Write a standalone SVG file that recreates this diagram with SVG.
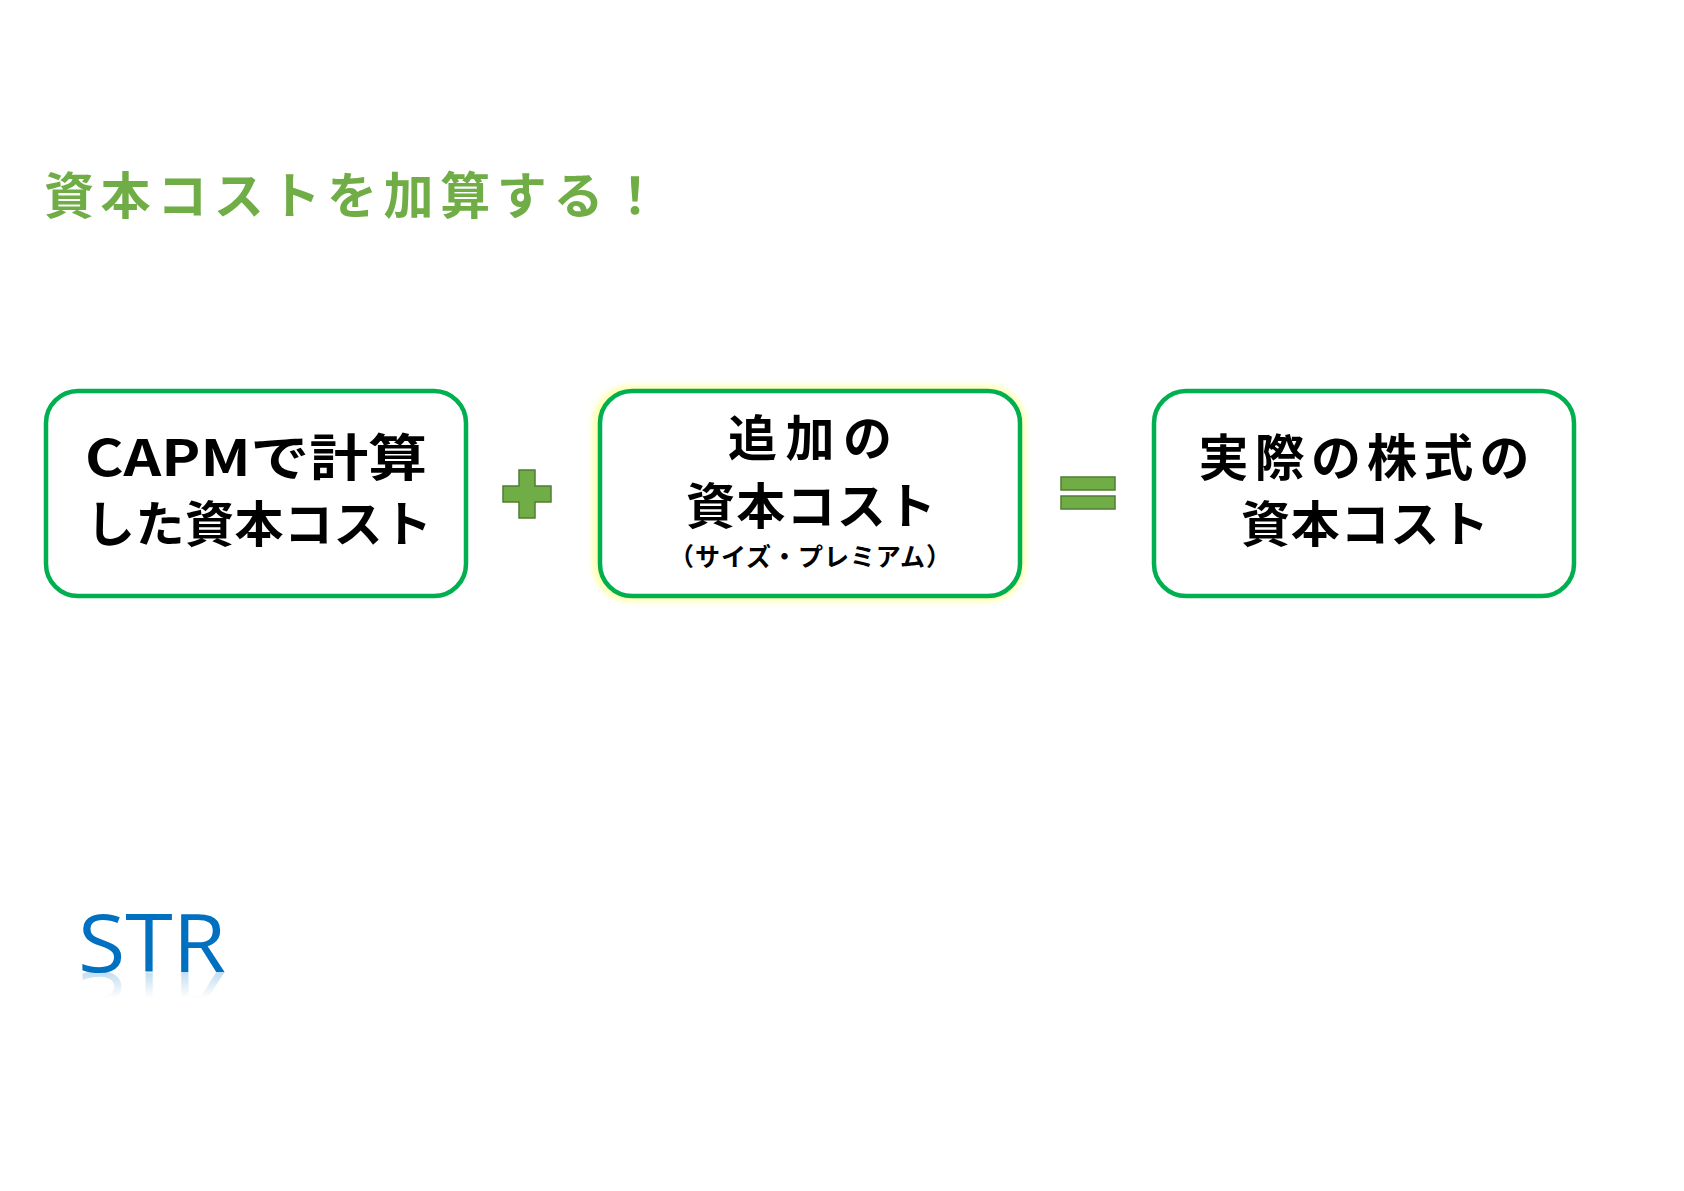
<svg xmlns="http://www.w3.org/2000/svg" width="1684" height="1191" viewBox="0 0 1684 1191">
<style>
.box{fill:#fff;stroke:#00B050;stroke-width:4.5}
.t{font-family:"Noto Sans CJK JP","Noto Sans",sans-serif;font-weight:700;fill:#000;text-anchor:middle}
.op{fill:#70AD47;stroke:#507E32;stroke-width:1.5}
</style>
<defs>
<filter id="glow" x="-10%" y="-10%" width="120%" height="120%">
<feGaussianBlur stdDeviation="3"/>
</filter>
<linearGradient id="refl" x1="0" y1="0" x2="0" y2="1">
<stop offset="0" stop-color="#0070C0" stop-opacity="0"/>
<stop offset="0.55" stop-color="#0070C0" stop-opacity="0"/>
<stop offset="1" stop-color="#0070C0" stop-opacity="0.45"/>
</linearGradient>
</defs>
<rect width="1684" height="1191" fill="#fff"/>
<text x="44" y="214" font-family="Noto Sans CJK JP,sans-serif" font-weight="700" font-size="50" fill="#70AD47" textLength="616" lengthAdjust="spacing">資本コストを加算する！</text>

<g id="node1">
<rect class="box" x="46" y="391" width="420" height="205" rx="32"/>
<text class="t" x="256" y="476" font-size="50" textLength="342" lengthAdjust="spacingAndGlyphs">CAPMで計算</text>
<text class="t" x="259" y="542" font-size="49" textLength="346" lengthAdjust="spacing">した資本コスト</text>
</g>

<g id="plus">
<path class="op" d="M519,470 h16 v16 h16 v16 h-16 v16 h-16 v-16 h-16 v-16 h16 z"/>
</g>

<g id="node2">
<rect x="598" y="391" width="422" height="205" rx="32" fill="none" stroke="#FFFF66" stroke-width="10" opacity="0.6" filter="url(#glow)"/>
<rect class="box" x="600" y="391" width="420" height="205" rx="32"/>
<text class="t" x="810" y="456" font-size="49" textLength="164" lengthAdjust="spacing">追加の</text>
<text class="t" x="811" y="524" font-size="49" textLength="250" lengthAdjust="spacing">資本コスト</text>
<text class="t" x="810" y="566" font-size="25" textLength="282" lengthAdjust="spacing">（サイズ・プレミアム）</text>
</g>

<g id="equals">
<rect class="op" x="1061" y="477" width="54" height="13"/>
<rect class="op" x="1061" y="496" width="54" height="13"/>
</g>

<g id="node3">
<rect class="box" x="1154" y="391" width="420" height="205" rx="32"/>
<text class="t" x="1364" y="476" font-size="50" textLength="331" lengthAdjust="spacing">実際の株式の</text>
<text class="t" x="1365" y="542" font-size="49" textLength="248" lengthAdjust="spacing">資本コスト</text>
</g>

<g id="connectors"></g>

<g id="logo">
<text x="78" y="972" font-family="Open Sans,Noto Sans,sans-serif" font-size="80" fill="#0070C0" textLength="148" lengthAdjust="spacingAndGlyphs">STR</text>
<text x="78" y="972" font-family="Open Sans,Noto Sans,sans-serif" font-size="80" fill="url(#refl)" textLength="148" lengthAdjust="spacingAndGlyphs" transform="translate(0,1944) scale(1,-1)">STR</text>
</g>
</svg>
